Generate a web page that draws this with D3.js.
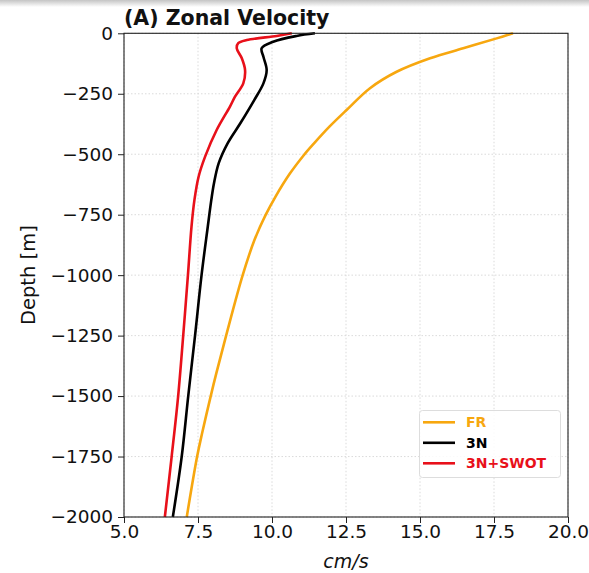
<!DOCTYPE html>
<html>
<head>
<meta charset="utf-8">
<script src="https://cdn.jsdelivr.net/npm/d3@7"></script>
<style>
  html, body { margin: 0; padding: 0; background: #fff; }
  svg { display: block; font-family: "DejaVu Sans", sans-serif; }
</style>
</head>
<body>
<svg id="chart" width="589" height="573"></svg>
<script>
// Depth levels (m, positive down) and zonal velocity profiles (cm/s)
const frDepth  = [0, 21, 62, 103, 159, 227, 317, 386, 455, 503, 579, 675, 750, 854, 1000, 1250, 1405, 1500, 1653, 1750, 2000];
const frSpeed  = [18.14, 17.59, 16.46, 15.34, 14.21, 13.31, 12.52, 11.94, 11.42, 11.08, 10.61, 10.12, 9.79, 9.41, 9.01, 8.45, 8.12, 7.93, 7.64, 7.47, 7.12];

const n3Depth  = [0, 11, 35, 62, 97, 152, 207, 276, 372, 455, 537, 620, 689, 800, 1000, 1250, 1500, 1750, 2000];
const n3Speed  = [11.45, 10.83, 10.04, 9.65, 9.71, 9.82, 9.71, 9.40, 8.93, 8.50, 8.20, 8.04, 7.95, 7.83, 7.62, 7.40, 7.17, 6.95, 6.65];

const swDepth  = [0, 11, 28, 41, 62, 103, 152, 207, 262, 303, 400, 510, 593, 689, 800, 1000, 1250, 1500, 1750, 2000];
const swSpeed  = [10.67, 10.16, 9.15, 8.86, 8.81, 8.98, 9.09, 9.03, 8.75, 8.58, 8.13, 7.74, 7.52, 7.38, 7.28, 7.16, 7.00, 6.83, 6.61, 6.38];

const seriesNames  = ["FR", "3N", "3N+SWOT"];
const seriesColors = ["#f7a70f", "#000000", "#e8101a"];

const xTicks = [5.0, 7.5, 10.0, 12.5, 15.0, 17.5, 20.0];
const yTicks = [0, -250, -500, -750, -1000, -1250, -1500, -1750, -2000];

const svg = d3.select("#chart");

// faint shadow band along the top edge
const defs = svg.append("defs");
const grad = defs.append("linearGradient").attr("id", "topShade").attr("x1", 0).attr("y1", 0).attr("x2", 0).attr("y2", 1);
grad.append("stop").attr("offset", "0%").attr("stop-color", "#c4c4c4");
grad.append("stop").attr("offset", "100%").attr("stop-color", "#ffffff");
svg.append("rect").attr("x", 0).attr("y", 0).attr("width", 589).attr("height", 7).attr("fill", "url(#topShade)");

const m = { left: 124, right: 568, top: 33.3, bottom: 517 };
const x = d3.scaleLinear().domain([5, 20]).range([m.left, m.right]);
const y = d3.scaleLinear().domain([0, -2000]).range([m.top, m.bottom]);

const fmtMinus = s => s.replace("-", "\u2212");

// grid
const grid = svg.append("g");
grid.selectAll("line.gx").data(xTicks).join("line")
  .attr("x1", d => x(d)).attr("x2", d => x(d))
  .attr("y1", m.top).attr("y2", m.bottom)
  .attr("stroke", "#d6d6d6").attr("stroke-width", 0.9).attr("stroke-dasharray", "1.5,2");
grid.selectAll("line.gy").data(yTicks).join("line")
  .attr("y1", d => y(d)).attr("y2", d => y(d))
  .attr("x1", m.left).attr("x2", m.right)
  .attr("stroke", "#d6d6d6").attr("stroke-width", 0.9).attr("stroke-dasharray", "1.5,2");

// profiles
const profiles = [
  { depth: frDepth, speed: frSpeed },
  { depth: n3Depth, speed: n3Speed },
  { depth: swDepth, speed: swSpeed }
];
const line = d3.line().x(d => x(d[1])).y(d => y(-d[0])).curve(d3.curveCatmullRom.alpha(0.5));
profiles.forEach((p, i) => {
  const pts = p.depth.map((dd, k) => [dd, p.speed[k]]);
  svg.append("path").datum(pts)
    .attr("d", line)
    .attr("fill", "none")
    .attr("stroke", seriesColors[i])
    .attr("stroke-width", 2.6)
    .attr("stroke-linejoin", "round");
});

// frame
svg.append("rect")
  .attr("x", m.left).attr("y", m.top)
  .attr("width", m.right - m.left).attr("height", m.bottom - m.top)
  .attr("fill", "none").attr("stroke", "#222").attr("stroke-width", 1.1);

// axes
const xAxis = d3.axisBottom(x).tickValues(xTicks).tickFormat(d3.format(".1f")).tickSize(6).tickPadding(2);
const yAxis = d3.axisLeft(y).tickValues(yTicks).tickFormat(d => fmtMinus(String(d))).tickSize(6).tickPadding(5);

const gx = svg.append("g").attr("transform", `translate(0,${m.bottom})`).call(xAxis);
const gy = svg.append("g").attr("transform", `translate(${m.left},0)`).call(yAxis);
[gx, gy].forEach(g => {
  g.select(".domain").remove();
  g.selectAll(".tick line").attr("stroke", "#222").attr("stroke-width", 1);
  g.selectAll(".tick text").attr("fill", "#111").style("font-size", "18.5px").style("font-family", "DejaVu Sans");
});

// title and axis labels
svg.append("text").attr("x", 124).attr("y", 25)
  .style("font-size", "20.5px").style("font-weight", "bold").attr("fill", "#111")
  .text("(A) Zonal Velocity");

svg.append("text").attr("x", (m.left + m.right) / 2).attr("y", 568)
  .attr("text-anchor", "middle").style("font-size", "19px").style("font-style", "italic").attr("fill", "#111")
  .text("cm/s");

svg.append("text")
  .attr("transform", `translate(35,${(m.top + m.bottom) / 2}) rotate(-90)`)
  .attr("text-anchor", "middle").style("font-size", "19.5px").attr("fill", "#111")
  .text("Depth [m]");

// legend
const lg = svg.append("g");
lg.append("rect").attr("x", 419.5).attr("y", 410.5).attr("width", 141).attr("height", 67)
  .attr("rx", 3).attr("fill", "#fff").attr("fill-opacity", 0.85).attr("stroke", "#ddd").attr("stroke-width", 1);
seriesNames.forEach((name, i) => {
  const yy = 422.3 + i * 20.5;
  lg.append("line").attr("x1", 423).attr("x2", 455).attr("y1", yy).attr("y2", yy)
    .attr("stroke", seriesColors[i]).attr("stroke-width", 2.6);
  lg.append("text").attr("x", 466).attr("y", yy).attr("dy", "0.35em")
    .style("font-size", "14px").style("font-weight", "bold").attr("fill", seriesColors[i])
    .text(name);
});
</script>
</body>
</html>
